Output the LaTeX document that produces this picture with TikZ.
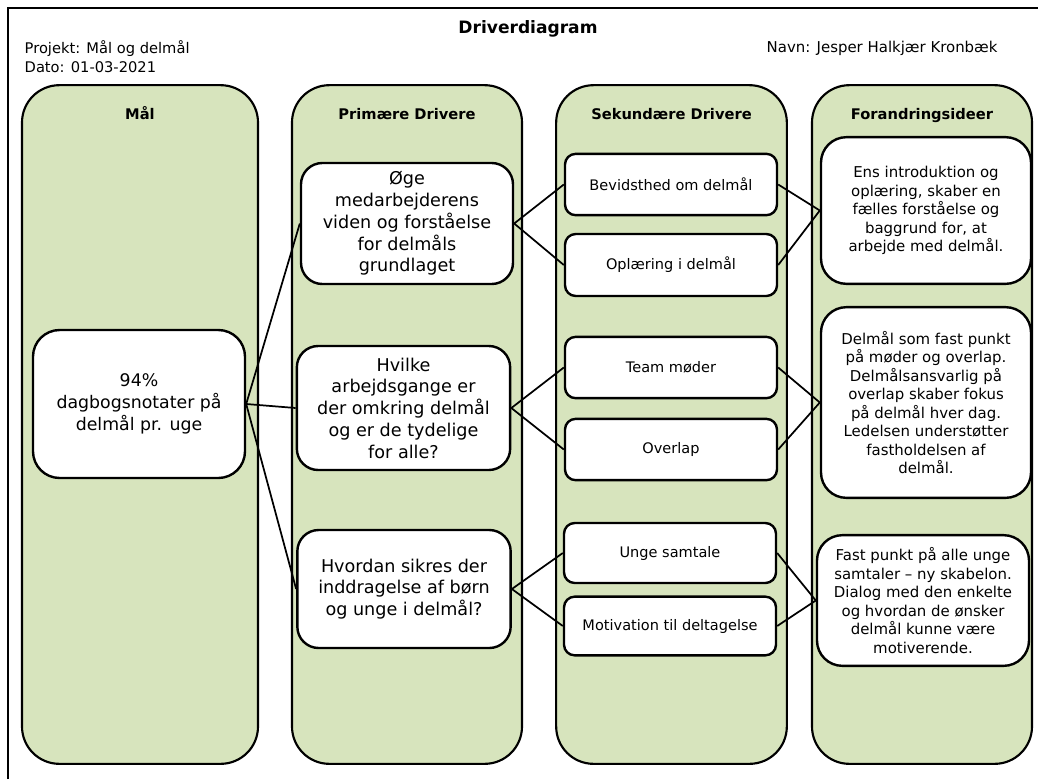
\documentclass[tikz,border=0pt]{standalone}
\usepackage{fontspec}
\setmainfont{DejaVu Sans}
\usetikzlibrary{positioning}
\definecolor{colgreen}{HTML}{D7E4BD}

\begin{document}
\begin{tikzpicture}[x=0.75pt, y=-0.75pt,
column/.style={draw, line width=1.6pt, fill=colgreen, rounded corners=28pt,
  inner sep=0pt, minimum width=#1, minimum height=509pt},
head/.style={font=\fontsize{11}{13}\selectfont\bfseries, text height=0.75em, text depth=0.22em},
bigbox/.style={draw, line width=1.8pt, fill=white, rounded corners=16pt, align=center,
  inner sep=2pt, font=\fontsize{13.2}{16.3}\selectfont},
smallbox/.style={draw, line width=1.8pt, fill=white, rounded corners=8pt, align=center,
  inner sep=2pt, minimum width=159pt, font=\fontsize{10.9}{12}\selectfont},
ideabox/.style={draw, line width=1.8pt, fill=white, rounded corners=19pt, align=center,
  inner sep=2pt, font=\fontsize{11.2}{13.9}\selectfont},
link/.style={line width=1.3pt}]
\useasboundingbox (0,0) rectangle (1038,779);
\draw[line width=1.2pt] (8,779) -- (8,8) -- (1038,8);

\node[font=\fontsize{12.8}{14}\selectfont\bfseries] (title) at (528,29) {Driverdiagram};
\node[anchor=west, font=\fontsize{11}{14.2}\selectfont, align=left] (proj) at (20,57)
  {Projekt: Mål og delmål\\Dato: 01-03-2021};
\node[anchor=west, font=\fontsize{11.2}{13}\selectfont] (navn) at (762,48) {Navn: Jesper Halkjær Kronbæk};

\node[column=177pt] (cmaal) at (140,424.5) {};
\node[column=172.5pt] (cprim) at (407,424.5) {};
\node[column=173pt] (csek) at (671.5,424.5) {};
\node[column=165pt] (cforan) at (922,424.5) {};

\node[head] (hmaal) at (140,115.5) {Mål};
\node[head] (hprim) at (407,115.5) {Primære Drivere};
\node[head] (hsek) at (671.5,115.5) {Sekundære Drivere};
\node[head] (hforan) at (922,115.5) {Forandringsideer};

\node[bigbox, rounded corners=20pt, minimum width=159pt, minimum height=111pt,
  font=\fontsize{13}{16.5}\selectfont] (goal) at (139,404)
  {94\%\\dagbogsnotater på\\delmål pr. uge};

\node[bigbox, minimum width=159pt, minimum height=90.75pt] (p1) at (407,223.5)
  {Øge\\medarbejderens\\viden og forståelse\\for delmåls\\grundlaget};
\node[bigbox, minimum width=160pt, minimum height=93pt] (p2) at (403.5,408)
  {Hvilke\\arbejdsgange er\\der omkring delmål\\og er de tydelige\\for alle?};
\node[bigbox, minimum width=160pt, minimum height=88.5pt] (p3) at (404,589)
  {Hvordan sikres der\\inddragelse af børn\\og unge i delmål?};

\node[smallbox, minimum height=46pt] (s1) at (671,184.5) {Bevidsthed om delmål};
\node[smallbox, minimum height=46.5pt] (s2) at (671,265) {Oplæring i delmål};
\node[smallbox, minimum height=46pt] (s3) at (671,367.5) {Team møder};
\node[smallbox, minimum height=46pt] (s4) at (671,449.5) {Overlap};
\node[smallbox, minimum height=45pt] (s5) at (670,553) {Unge samtale};
\node[smallbox, minimum height=44pt] (s6) at (670,626) {Motivation til deltagelse};

\node[ideabox, minimum width=157.5pt, minimum height=110pt] (f1) at (926,210.5)
  {Ens introduktion og\\oplæring, skaber en\\fælles forståelse og\\baggrund for, at\\arbejde med delmål.};
\node[ideabox, minimum width=157.5pt, minimum height=143pt] (f2) at (926,402.5)
  {Delmål som fast punkt\\på møder og overlap.\\Delmålsansvarlig på\\overlap skaber fokus\\på delmål hver dag.\\Ledelsen understøtter\\fastholdelsen af\\delmål.};
\node[ideabox, minimum width=159pt, minimum height=98pt] (f3) at (923,600.5)
  {Fast punkt på alle unge\\samtaler – ny skabelon.\\Dialog med den enkelte\\og hvordan de ønsker\\delmål kunne være\\motiverende.};

\draw[link] (goal.east) -- (p1.west);
\draw[link] (goal.east) -- (p2.west);
\draw[link] (goal.east) -- (p3.west);
\draw[link] (p1.east) -- (s1.west);
\draw[link] (p1.east) -- (s2.west);
\draw[link] (p2.east) -- (s3.west);
\draw[link] (p2.east) -- (s4.west);
\draw[link] (p3.east) -- (s5.west);
\draw[link] (p3.east) -- (s6.west);
\draw[link] (s1.east) -- (f1.west);
\draw[link] (s2.east) -- (f1.west);
\draw[link] (s3.east) -- (f2.west);
\draw[link] (s4.east) -- (f2.west);
\draw[link] (s5.east) -- (f3.west);
\draw[link] (s6.east) -- (f3.west);
\end{tikzpicture}
\end{document}
